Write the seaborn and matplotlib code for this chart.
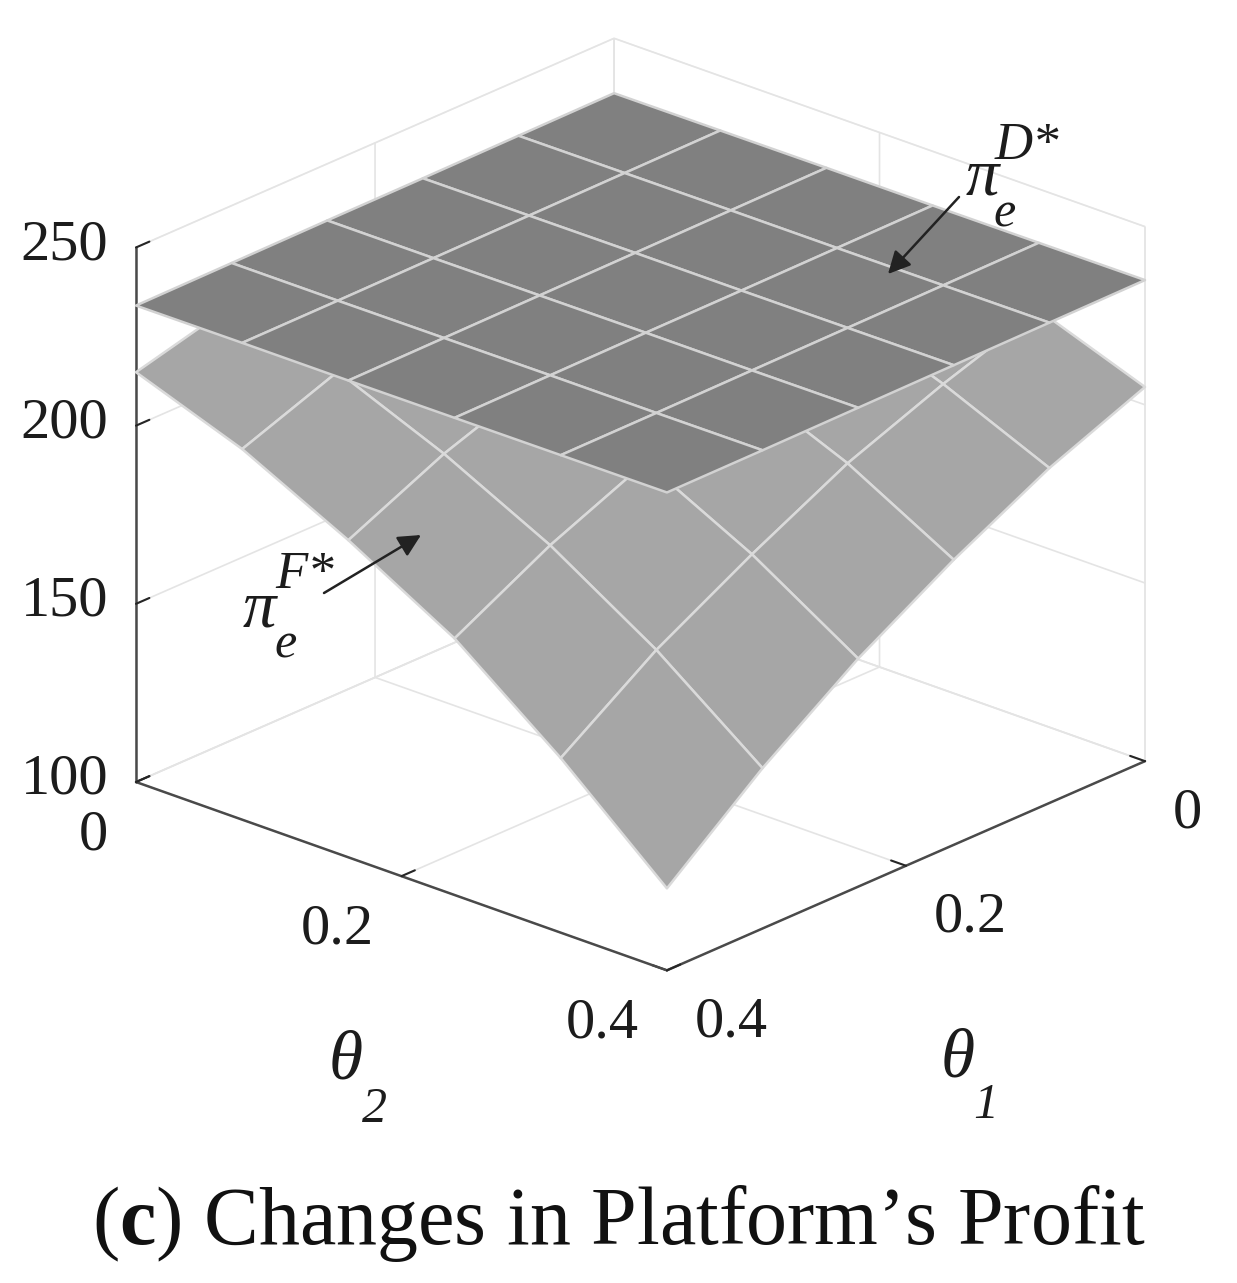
import numpy as np
import seaborn as sns
import matplotlib.pyplot as plt
from mpl_toolkits.mplot3d import proj3d

# grid of both surfaces
theta1 = [0, 0.08, 0.16, 0.24, 0.32, 0.4]
theta2 = [0, 0.08, 0.16, 0.24, 0.32, 0.4]

# rows follow theta1, columns follow theta2
profit_d = [
    [234.6, 234.7, 234.8, 234.8, 234.9, 235.0],
    [234.4, 234.5, 234.6, 234.6, 234.7, 234.8],
    [234.2, 234.3, 234.4, 234.4, 234.5, 234.6],
    [234.1, 234.1, 234.2, 234.3, 234.3, 234.4],
    [233.9, 233.9, 234.0, 234.1, 234.1, 234.2],
    [233.7, 233.8, 233.8, 233.9, 234.0, 234.1],
]
profit_f = [
    [234.0, 233.0, 230.0, 225.0, 216.0, 205.0],
    [232.0, 230.0, 226.0, 218.0, 207.0, 194.0],
    [229.0, 226.0, 219.0, 209.0, 196.5, 180.0],
    [226.0, 221.0, 211.0, 198.0, 182.7, 164.0],
    [222.0, 214.0, 201.5, 186.4, 167.6, 145.0],
    [215.0, 204.0, 189.0, 172.0, 149.0, 123.0],
]

x_ticks = [0, 0.2, 0.4]
y_ticks = [0, 0.2, 0.4]
z_ticks = [100, 150, 200, 250]
x_tick_labels = ['0', '0.2', '0.4']
y_tick_labels = ['0', '0.2', '0.4']
z_tick_labels = ['100', '150', '200', '250']

W, H = 1237, 1283
SERIF = 'Liberation Serif'

sns.set_theme(style='white')
plt.rcParams['font.family'] = [SERIF, 'DejaVu Serif']
plt.rcParams['mathtext.fontset'] = 'custom'
plt.rcParams['mathtext.rm'] = SERIF
plt.rcParams['mathtext.bf'] = SERIF + ':bold'

fig = plt.figure(figsize=(W / 100, H / 100), dpi=100)
ax = fig.add_axes([0, 0, 1, 1], projection='3d', computed_zorder=False)
ax.set_proj_type('ortho')
ax.view_init(elev=23.2, azim=42.0)
ax.set_box_aspect((715, 715, 582))
ax.patch.set_alpha(0)

t1, t2 = np.meshgrid(theta1, theta2, indexing='ij')
ax.plot_surface(t1, t2, np.array(profit_f), color='#a6a6a6', edgecolor='#dadada', linewidth=1.8,
                shade=False, zorder=2)
ax.plot_surface(t1, t2, np.array(profit_d), color='#808080', edgecolor='#d2d2d2', linewidth=1.8,
                shade=False, zorder=3)

ax.set_xlim(0, 0.4)
ax.set_ylim(0, 0.4)
ax.set_zlim(100, 250)
ax.set_xticks(x_ticks)
ax.set_yticks(y_ticks)
ax.set_zticks(z_ticks)
ax.set_xticklabels([])
ax.set_yticklabels([])
ax.set_zticklabels([])

# matlab like box: no pane fill, thin grey grid, dark axis lines
for axis in (ax.xaxis, ax.yaxis, ax.zaxis):
    axis.pane.set_facecolor((1, 1, 1, 0))
    axis.pane.set_edgecolor('#dedede')
    axis.line.set_color('#4a4a4a')
    axis.line.set_linewidth(1.8)
    axis._axinfo['grid'].update(color='#e4e4e4', linewidth=1.2)
    axis._axinfo['tick'].update(inward_factor=0.0, outward_factor=0.35, color='#4a4a4a',
                                linewidth={True: 1.5, False: 1.0})
ax.grid(True)


def corner_px(x, y, z):
    xp, yp, _ = proj3d.proj_transform(x, y, z, ax.get_proj())
    return ax.transData.transform((xp, yp))


# fit the axes box to the plot corners of the picture
fig.canvas.draw()
left = corner_px(0.4, 0, 100)
right = corner_px(0, 0.4, 100)
scale = (1145 - 136) / (right[0] - left[0])
pos = ax.get_position()
new_w = pos.width * scale
ax.set_position([0, 0, new_w, new_w * W / H])
fig.canvas.draw()
left = corner_px(0.4, 0, 100)
pos = ax.get_position()
ax.set_position([pos.x0 + (136 - left[0]) / W, pos.y0 + ((H - 782) - left[1]) / H, pos.width, pos.height])
fig.canvas.draw()


def tick_label(x, y, z, text, dx, dy, ha):
    xp, yp, _ = proj3d.proj_transform(x, y, z, ax.get_proj())
    ax.annotate(text, xy=(xp, yp), xytext=(dx, dy), textcoords='offset pixels', ha=ha, va='center',
                fontsize=42, color='#1c1c1c', annotation_clip=False, zorder=6)


for value, label in zip(z_ticks, z_tick_labels):
    tick_label(0.4, 0, value, label, -28, 2, 'right')
for value, label in zip(y_ticks, y_tick_labels):
    tick_label(0.4, value, 100, label, -28, -53, 'right')
for value, label in zip(x_ticks, x_tick_labels):
    tick_label(value, 0.4, 100, label, 28, -52, 'left')


def put_text(px, py, text, size, style='italic'):
    fig.text(px / W, 1 - py / H, text, fontsize=size, style=style, ha='center', va='center', color='#1c1c1c')


def arrow(x0, y0, x1, y1):
    ax.annotate('', xy=(x1 / W, 1 - y1 / H), xytext=(x0 / W, 1 - y0 / H), xycoords='figure fraction',
                textcoords='figure fraction', zorder=6,
                arrowprops=dict(arrowstyle='-|>', color='#222222', lw=1.8, mutation_scale=34, shrinkA=0, shrinkB=0))


# surface names and their arrows
put_text(982, 178, 'π', 48)
put_text(1027, 146, 'D*', 38)
put_text(1005, 214, 'e', 36)
arrow(959, 197, 888, 274)

put_text(259, 610, 'π', 48)
put_text(305, 575, 'F*', 38)
put_text(286, 645, 'e', 36)
arrow(324, 593, 421, 535)

# axis names
put_text(346, 1062, 'θ', 50)
put_text(374, 1110, '2', 36)
put_text(958, 1060, 'θ', 50)
put_text(986, 1106, '1', 36)

fig.text(619 / W, 1 - 1224 / H, '($\\mathbf{c}$) Changes in Platform\u2019s Profit', fontsize=59, ha='center',
         va='center', color='#111111')

fig.savefig('out.png', dpi=100)
